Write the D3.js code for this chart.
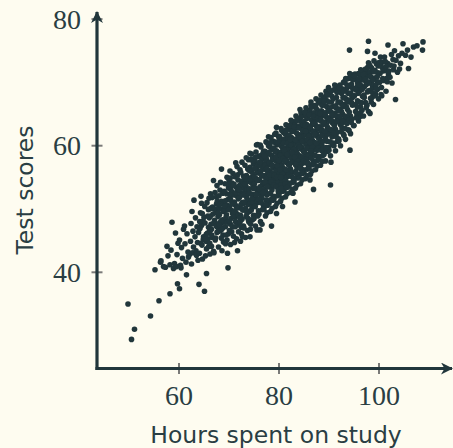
<!DOCTYPE html>
<html>
<head>
<meta charset="utf-8">
<script src="https://cdn.jsdelivr.net/npm/d3@7"></script>
<style>
  body { margin: 0; background: #fefcf0; }
  svg { display: block; }
  .tick-label { font-family: "Liberation Serif", serif; font-size: 28px; fill: #2a3e43; }
  .axis-title { font-family: "DejaVu Sans", sans-serif; font-size: 23.5px; fill: #2a3e43; }
</style>
</head>
<body>
<svg id="chart" width="453" height="448"></svg>
<script>
// hours spent on study vs test score
const samples = [
  [49.8,35.0],[51.1,31.0],[50.5,29.4],[54.3,33.1],[56.0,35.5],[58.2,36.6],[59.7,38.2],[60.1,37.4],[55.2,40.4],[56.3,41.6],
  [56.4,41.8],[56.9,40.9],
  [57.3,40.8],[57.8,42.6],[57.6,44.1],
  [58.2,41.2],[58.6,47.9],[58.9,40.6],[58.4,43.5],
  [59.3,46.2],[59.1,41.4],[59.6,42.8],[59.8,44.6],[59.5,40.9],
  [60.1,45.1],[60.3,41.1],[60.5,43.9],[60.7,42.2],[60.9,46.8],[60.4,40.7],
  [61.2,44.5],[61.4,41.6],[61.6,46.1],[61.8,43.2],[61.1,47.3],[61.9,42.4],[61.5,39.6],
  [62.6,49.6],[62.3,44.9],[62.1,42.8],[62.8,46.5],[62.5,41.3],[62.9,44.0],[62.4,47.7],[62.7,43.1],
  [63.0,51.4],[63.2,45.6],[63.4,43.4],[63.6,47.2],[63.8,41.9],[63.3,48.6],[63.7,44.7],[63.9,46.3],[63.5,42.7],
  [64.4,52.0],[64.5,50.9],[64.0,38.1],[64.2,46.9],[64.6,44.3],[64.8,48.1],[64.1,43.0],[64.9,45.6],[64.3,49.4],[64.7,42.1],[64.5,47.4],
  [65.1,37.0],[65.5,39.8],[65.2,47.8],[65.4,44.9],[65.7,46.2],[65.9,49.9],[65.3,42.6],[65.6,51.0],[65.8,45.3],[65.0,48.7],[65.5,43.7],[65.9,47.1],
  [66.9,54.5],[66.1,46.4],[66.3,48.9],[66.5,44.1],[66.7,50.3],[66.2,42.9],[66.4,47.6],[66.6,45.5],[66.8,49.2],[66.0,51.7],[66.5,46.8],[66.9,43.3],[66.3,52.4],
  [67.1,48.2],[67.3,45.4],[67.5,50.8],[67.7,47.1],[67.9,44.0],[67.2,52.6],[67.4,49.5],[67.6,46.3],[67.8,48.8],[67.0,43.1],[67.5,51.9],[67.9,50.1],[67.3,47.8],[67.6,53.7],
  [68.5,56.3],[68.1,49.1],[68.3,46.6],[68.5,51.2],[68.7,48.3],[68.9,44.8],[68.2,53.0],[68.4,47.7],[68.6,50.0],[68.8,45.9],[68.0,52.1],[68.6,43.4],[68.9,49.6],[68.3,54.2],[68.7,47.0],
  [69.8,40.7],[69.7,43.0],[69.1,49.8],[69.3,47.2],[69.5,52.4],[69.7,50.6],[69.9,46.1],[69.2,54.0],[69.4,48.7],[69.6,45.1],[69.8,51.5],[69.0,47.9],[69.5,49.1],[69.9,53.3],[69.3,44.5],[69.6,55.0],
  [70.2,56.0],[70.0,54.6],[70.1,50.4],[70.3,47.6],[70.5,52.8],[70.7,49.3],[70.9,45.7],[70.2,51.7],[70.4,48.5],[70.6,54.1],[70.8,50.9],[70.1,46.6],[70.5,49.8],[70.9,52.2],[70.3,44.4],[70.7,47.2],[70.4,53.5],[70.8,55.6],
  [71.7,43.4],[71.1,51.1],[71.3,48.0],[71.5,53.4],[71.7,50.2],[71.9,46.4],[71.2,55.1],[71.4,49.4],[71.6,52.0],[71.8,47.5],[71.0,53.9],[71.5,45.3],[71.9,51.6],[71.3,50.6],[71.6,56.7],[71.2,48.7],[71.8,54.6],[71.1,44.7],
  [72.1,51.8],[72.3,49.0],[72.5,54.0],[72.7,51.0],[72.9,47.3],[72.2,56.2],[72.4,52.5],[72.6,48.4],[72.8,53.3],[72.0,50.3],[72.5,46.1],[72.9,55.2],[72.3,44.9],[72.6,57.4],[72.8,49.8],[72.1,53.7],[72.4,50.7],[72.7,45.6],[72.2,47.9],
  [73.1,52.6],[73.3,50.1],[73.5,55.3],[73.7,51.4],[73.9,48.2],[73.2,56.9],[73.4,53.6],[73.6,49.3],[73.8,54.4],[73.0,47.0],[73.5,51.9],[73.9,57.8],[73.3,45.5],[73.6,53.0],[73.8,50.7],[73.1,55.0],[73.4,48.8],[73.7,46.6],[73.2,52.3],[73.9,54.9],
  [74.5,58.7],[74.2,58.8],[74.2,45.6],[74.1,53.2],[74.3,50.9],[74.5,55.9],[74.7,52.3],[74.9,49.0],[74.2,56.6],[74.4,54.2],[74.6,50.3],[74.8,53.8],[74.0,47.9],[74.5,51.5],[74.9,57.1],[74.3,46.8],[74.6,55.0],[74.8,51.0],[74.1,49.6],[74.4,57.9],[74.7,48.3],[74.9,54.6],
  [75.7,60.2],[75.5,60.1],[75.1,54.0],[75.3,51.6],[75.5,56.5],[75.7,53.1],[75.9,49.7],[75.2,57.6],[75.4,54.8],[75.6,51.0],[75.8,55.7],[75.0,48.5],[75.5,52.4],[75.9,58.3],[75.3,47.3],[75.6,56.0],[75.8,52.8],[75.1,50.4],[75.4,59.0],[75.7,49.1],[75.9,54.5],[75.2,53.3],[75.6,46.7],
  [76.2,46.7],[76.1,54.6],[76.3,52.2],[76.5,57.2],[76.7,53.8],[76.9,50.5],[76.2,58.4],[76.4,55.5],[76.6,51.7],[76.8,56.3],[76.0,49.2],[76.5,53.0],[76.9,59.1],[76.3,48.0],[76.6,57.9],[76.8,54.0],[76.1,51.1],[76.4,59.8],[76.7,49.9],[76.9,55.2],[76.2,53.5],[76.6,47.6],[76.4,56.8],[76.8,52.4],
  [77.9,61.4],[77.1,55.3],[77.3,52.8],[77.5,57.9],[77.7,54.5],[77.9,51.3],[77.2,59.1],[77.4,56.2],[77.6,52.2],[77.8,57.0],[77.0,50.0],[77.5,54.9],[77.9,60.0],[77.3,48.9],[77.6,58.6],[77.8,55.8],[77.1,53.1],[77.4,60.6],[77.7,50.6],[77.9,56.1],[77.2,54.0],[77.6,49.4],[77.4,57.4],[77.8,53.5],[77.0,56.6],
  [78.5,47.3],[78.1,56.0],[78.3,53.5],[78.5,58.5],[78.7,55.2],[78.9,52.0],[78.2,59.8],[78.4,57.0],[78.6,53.0],[78.8,57.8],[78.0,50.9],[78.5,55.7],[78.9,60.7],[78.3,49.6],[78.6,59.4],[78.8,56.5],[78.1,54.1],[78.4,61.3],[78.7,51.4],[78.9,54.8],[78.2,57.4],[78.6,50.1],[78.4,55.0],[78.8,53.7],[78.0,58.8],
  [79.5,62.9],[79.5,49.3],[79.1,56.7],[79.3,54.2],[79.5,59.2],[79.7,55.9],[79.9,52.7],[79.2,60.5],[79.4,57.6],[79.6,53.7],[79.8,58.5],[79.0,51.6],[79.5,56.3],[79.9,61.4],[79.3,50.4],[79.6,60.1],[79.8,57.1],[79.1,54.9],[79.4,62.0],[79.7,52.1],[79.9,55.6],[79.2,58.1],[79.6,50.9],[79.4,56.0],[79.8,54.4],[79.0,59.6],[79.7,57.9],
  [80.7,50.4],[80.1,57.4],[80.3,54.9],[80.5,59.9],[80.7,56.6],[80.9,53.4],[80.2,61.2],[80.4,58.3],[80.6,54.4],[80.8,59.2],[80.0,52.3],[80.5,57.0],[80.9,62.1],[80.3,51.2],[80.6,60.8],[80.8,57.8],[80.1,55.6],[80.4,62.7],[80.7,52.8],[80.9,56.3],[80.2,58.9],[80.6,51.7],[80.4,56.7],[80.8,55.1],[80.0,60.3],[80.7,58.6],[80.3,53.8],
  [81.5,62.5],[81.1,58.1],[81.3,55.6],[81.5,60.6],[81.7,57.3],[81.9,54.1],[81.2,61.9],[81.4,59.0],[81.6,55.1],[81.8,59.9],[81.0,53.0],[81.5,57.7],[81.9,62.8],[81.3,51.9],[81.6,61.5],[81.8,58.5],[81.1,56.3],[81.4,63.3],[81.7,53.5],[81.9,57.0],[81.2,59.6],[81.6,52.4],[81.4,57.4],[81.8,55.8],[81.0,61.0],[81.7,59.3],[81.3,54.5],
  [82.7,63.8],[82.8,52.5],[82.1,58.8],[82.3,56.3],[82.5,61.3],[82.7,58.0],[82.9,54.8],[82.2,62.6],[82.4,59.7],[82.6,55.8],[82.8,60.6],[82.0,53.7],[82.5,58.4],[82.9,63.5],[82.3,52.6],[82.6,62.2],[82.8,59.2],[82.1,57.0],[82.4,64.0],[82.7,54.2],[82.9,57.7],[82.2,60.3],[82.6,53.1],[82.4,58.1],[82.0,61.7],[82.7,60.0],[82.3,55.2],
  [83.2,51.1],[83.1,59.5],[83.3,57.0],[83.5,62.0],[83.7,58.7],[83.9,55.5],[83.2,63.3],[83.4,60.4],[83.6,56.5],[83.8,61.3],[83.0,54.4],[83.5,59.1],[83.9,64.2],[83.3,53.3],[83.6,62.9],[83.8,59.9],[83.1,57.7],[83.4,64.7],[83.7,54.9],[83.9,58.4],[83.2,61.0],[83.6,53.8],[83.4,58.8],[83.8,57.2],[83.0,62.4],[83.7,60.7],[83.3,55.9],
  [84.2,65.7],[84.1,60.2],[84.3,57.7],[84.5,62.7],[84.7,59.4],[84.9,56.2],[84.2,64.0],[84.4,61.1],[84.6,57.2],[84.8,62.0],[84.0,55.1],[84.5,59.8],[84.9,64.9],[84.3,54.0],[84.6,63.6],[84.8,60.6],[84.1,58.4],[84.4,65.2],[84.7,55.6],[84.9,59.1],[84.2,61.7],[84.6,54.6],[84.4,59.5],[84.8,57.9],[84.0,63.1],[84.7,61.4],[84.3,56.6],
  [85.1,60.9],[85.3,58.4],[85.5,63.4],[85.7,60.1],[85.9,56.9],[85.2,64.7],[85.4,61.8],[85.6,57.9],[85.8,62.7],[85.0,55.8],[85.5,60.5],[85.9,65.6],[85.3,54.8],[85.6,64.3],[85.8,61.3],[85.1,59.1],[85.4,66.0],[85.7,56.3],[85.9,59.8],[85.2,62.4],[85.6,55.3],[85.4,60.2],[85.8,58.6],[85.0,63.8],[85.7,62.1],[85.3,57.3],
  [86.4,66.4],[86.2,54.6],[86.9,53.1],[86.1,61.6],[86.3,59.1],[86.5,64.1],[86.7,60.8],[86.9,57.6],[86.2,65.4],[86.4,62.5],[86.6,58.6],[86.8,63.4],[86.0,56.5],[86.5,61.2],[86.9,66.3],[86.3,55.5],[86.6,65.0],[86.8,62.0],[86.1,59.8],[86.4,66.9],[86.7,57.0],[86.9,60.5],[86.2,63.1],[86.6,56.0],[86.4,60.9],[86.8,59.3],
  [87.1,62.3],[87.3,59.8],[87.5,64.8],[87.7,61.5],[87.9,58.3],[87.2,66.1],[87.4,63.2],[87.6,59.3],[87.8,64.1],[87.0,57.2],[87.5,61.9],[87.9,67.0],[87.3,56.2],[87.6,65.7],[87.8,62.7],[87.1,60.5],[87.4,67.4],[87.7,57.7],[87.9,61.2],[87.2,63.8],[87.6,56.8],[87.4,61.6],[87.8,60.0],[87.0,65.2],
  [88.1,63.0],[88.3,60.5],[88.5,65.5],[88.7,62.2],[88.9,59.0],[88.2,66.8],[88.4,63.9],[88.6,60.0],[88.8,64.8],[88.0,57.9],[88.5,62.6],[88.9,67.6],[88.3,56.9],[88.6,66.4],[88.8,63.4],[88.1,61.2],[88.4,68.0],[88.7,58.4],[88.9,61.9],[88.2,64.5],[88.6,57.5],[88.4,62.3],[88.8,60.7],
  [89.9,69.2],[89.7,68.0],[89.1,63.7],[89.3,61.2],[89.5,66.2],[89.7,62.9],[89.9,59.7],[89.2,67.5],[89.4,64.6],[89.6,60.7],[89.8,65.5],[89.0,58.6],[89.5,63.3],[89.9,68.2],[89.3,57.6],[89.6,67.1],[89.8,64.1],[89.1,61.9],[89.4,68.6],[89.7,59.1],[89.9,62.6],[89.2,65.2],
  [90.4,57.4],[90.3,53.8],[90.1,64.4],[90.3,61.9],[90.5,66.9],[90.7,63.6],[90.9,60.4],[90.2,68.2],[90.4,65.3],[90.6,61.4],[90.8,66.2],[90.0,59.3],[90.5,64.0],[90.9,68.8],[90.3,58.4],[90.6,67.8],[90.8,64.8],[90.1,62.6],[90.7,60.1],[90.2,66.0],
  [91.1,65.1],[91.3,62.6],[91.5,67.6],[91.7,64.3],[91.9,61.1],[91.2,68.9],[91.4,66.0],[91.6,62.1],[91.8,66.9],[91.0,60.0],[91.5,64.7],[91.9,69.4],[91.3,59.2],[91.6,68.4],[91.8,65.5],[91.1,63.3],[91.7,60.7],[91.4,63.8],
  [92.3,68.9],[92.1,65.8],[92.3,63.3],[92.5,68.3],[92.7,65.0],[92.9,61.8],[92.2,69.6],[92.4,66.7],[92.6,62.8],[92.8,67.6],[92.0,60.8],[92.5,65.4],[92.9,70.0],[92.3,60.0],[92.6,69.0],[92.8,66.2],[92.1,64.0],[92.7,63.6],
  [93.1,66.5],[93.3,64.0],[93.5,69.0],[93.7,65.7],[93.9,62.5],[93.2,70.2],[93.4,67.4],[93.6,63.5],[93.8,68.3],[93.0,61.6],[93.5,66.1],[93.9,70.6],[93.3,61.0],[93.6,69.6],[93.8,66.9],[93.1,64.7],
  [94.1,75.1],[94.2,59.3],[94.4,69.3],[94.1,67.2],[94.3,64.7],[94.5,69.7],[94.7,66.4],[94.9,63.2],[94.2,70.8],[94.4,68.1],[94.6,64.2],[94.8,69.0],[94.0,62.4],[94.5,66.8],[94.9,71.2],[94.3,61.9],[94.7,67.6],
  [95.1,67.9],[95.3,65.4],[95.5,70.4],[95.7,67.1],[95.9,63.9],[95.2,71.3],[95.4,68.8],[95.6,64.9],[95.8,69.7],[95.0,63.2],[95.5,69.2],[95.9,71.4],[95.3,66.5],[95.7,70.0],
  [96.2,64.6],[96.1,68.6],[96.3,66.1],[96.5,71.0],[96.7,67.8],[96.9,64.7],[96.2,70.3],[96.4,69.5],[96.6,65.6],[96.8,70.4],[96.0,66.9],[96.5,69.0],[96.9,71.8],[96.3,71.4],
  [97.9,76.5],[97.7,74.9],[97.9,73.1],[97.1,69.3],[97.3,66.8],[97.5,71.6],[97.7,68.5],[97.9,65.4],[97.2,70.9],[97.4,70.1],[97.6,66.4],[97.8,71.1],[97.0,68.0],[97.5,69.7],[97.3,72.1],
  [98.2,72.6],[98.2,65.1],[98.6,67.6],[98.1,70.0],[98.3,67.5],[98.5,72.3],[98.7,69.2],[98.9,66.5],[98.2,71.6],[98.4,70.8],[98.8,71.8],[98.0,68.7],[98.5,69.8],
  [99.2,74.6],[99.9,73.1],[99.7,68.9],[99.1,70.7],[99.3,68.2],[99.5,72.9],[99.7,70.1],[99.9,67.4],[99.2,71.9],[99.4,69.6],[99.8,71.5],[99.0,73.4],
  [100.3,74.0],[100.2,71.4],[100.5,69.2],[100.7,72.3],[100.9,70.3],[100.4,68.1],[100.6,73.2],[100.1,70.0],[100.8,71.8],
  [101.8,75.9],[101.2,72.0],[101.5,70.6],[101.7,73.0],[101.9,71.2],[101.4,68.6],[101.1,74.0],[101.6,71.8],
  [102.0,71.8],[102.5,74.4],[102.3,72.7],[102.6,69.9],[102.8,73.6],[102.2,70.8],[102.9,72.0],
  [103.1,75.0],[103.0,72.6],[103.3,67.3],[103.4,73.5],[103.7,71.6],[103.9,74.2],
  [104.8,76.1],[104.3,73.0],[104.6,74.6],[104.1,72.1],
  [105.9,72.2],[105.3,74.3],[105.7,75.1],
  [106.9,75.6],[106.4,74.0],
  [108.8,76.4],[108.7,75.1],[107.6,75.8]
];

// second pass over the dense band, filling the gaps in the core
const coreSamples = [
  [64.05,47.0],[64.35,44.6],[64.65,49.3],[64.85,45.2],[64.15,48.0],
  [65.25,45.3],[65.75,48.9],[65.45,46.0],[65.95,44.1],[65.15,50.4],
  [66.05,48.6],[66.55,45.9],[66.35,50.1],[66.85,47.7],[66.15,44.6],[66.65,51.8],
  [67.45,47.3],[67.05,50.0],[67.85,49.4],[67.25,45.1],[67.65,51.2],[67.95,46.5],
  [68.15,50.7],[68.45,45.4],[68.75,52.5],[68.35,48.0],[68.95,50.9],[68.55,46.8],[68.05,47.5],
  [69.25,51.3],[69.65,47.9],[69.05,52.8],[69.85,49.9],[69.45,45.9],[69.15,50.5],[69.75,53.9],
  [70.35,51.4],[70.05,48.1],[70.85,53.7],[70.55,46.4],[70.25,54.9],[70.65,50.8],[70.95,48.9],[70.15,52.3],
  [71.45,52.6],[71.05,49.6],[71.75,55.4],[71.25,47.2],[71.95,53.0],[71.55,50.2],[71.35,57.3],[71.85,49.1],
  [72.05,53.1],[72.55,50.0],[72.35,55.8],[72.85,52.2],[72.15,48.6],[72.65,54.4],[72.95,50.9],[72.45,47.1],
  [73.35,54.3],[73.05,51.1],[73.75,56.3],[73.55,49.7],[73.15,53.9],[73.95,52.4],[73.45,58.1],[73.85,48.5],
  [74.25,54.7],[74.65,51.7],[74.05,56.1],[74.85,55.5],[74.45,49.8],[74.15,52.5],[74.75,57.6],[74.35,47.6],[74.95,53.2],
  [75.05,55.1],[75.45,52.3],[75.85,57.0],[75.25,50.4],[75.65,54.6],[75.35,58.2],[75.95,51.5],[75.15,56.4],[75.75,48.9],
  [76.35,56.0],[76.05,53.2],[76.75,58.7],[76.45,51.0],[76.95,54.2],[76.15,57.4],[76.55,55.3],[76.85,52.6],[76.25,60.1],
  [77.25,56.9],[77.65,53.6],[77.05,58.4],[77.85,55.7],[77.45,51.4],[77.95,58.9],[77.15,54.3],[77.55,56.4],[77.35,50.7],[77.75,60.4],
  [78.05,57.3],[78.45,54.3],[78.85,59.6],[78.25,52.5],[78.65,56.9],[78.35,60.5],[78.95,53.8],[78.15,55.4],[78.75,58.0],[78.55,51.6],
  [79.35,58.2],[79.05,55.3],[79.75,60.6],[79.45,53.5],[79.95,57.7],[79.15,61.8],[79.55,55.0],[79.85,52.9],[79.25,59.0],[79.65,56.8],
  [80.25,58.5],[80.65,55.6],[80.05,61.5],[80.85,58.0],[80.45,53.3],[80.95,60.4],[80.15,56.2],[80.55,62.4],[80.35,55.0],[80.75,59.6],
  [81.05,59.3],[81.45,56.2],[81.85,61.1],[81.25,54.0],[81.65,58.6],[81.35,62.3],[81.95,55.4],[81.15,57.6],[81.75,60.4],[81.55,53.4],
  [82.35,60.1],[82.05,57.0],[82.75,62.3],[82.45,55.2],[82.95,59.4],[82.15,63.2],[82.55,57.4],[82.85,54.9],[82.25,61.0],[82.65,58.9],
  [83.25,60.9],[83.65,57.8],[83.05,63.0],[83.85,60.1],[83.45,55.6],[83.95,62.8],[83.15,58.2],[83.55,64.0],[83.35,57.1],[83.75,61.8],
  [84.05,61.4],[84.45,58.3],[84.85,63.3],[84.25,56.4],[84.65,60.7],[84.35,64.5],[84.95,57.6],[84.15,59.8],[84.75,62.4],[84.55,55.7],
  [85.35,62.3],[85.05,59.1],[85.75,64.5],[85.45,57.4],[85.95,61.5],[85.15,65.3],[85.55,59.6],[85.85,57.2],[85.25,63.2],[85.65,60.9],
  [86.25,62.8],[86.65,59.9],[86.05,64.9],[86.85,62.2],[86.45,58.0],[86.95,64.6],[86.15,60.5],[86.55,66.1],[86.35,59.2],[86.75,63.6],
  [87.05,63.5],[87.45,60.4],[87.85,65.2],[87.25,58.5],[87.65,62.9],[87.35,66.4],[87.95,59.6],[87.15,61.8],[87.75,64.4],
  [88.35,64.2],[88.05,61.2],[88.75,66.4],[88.45,59.3],[88.95,63.7],[88.15,67.2],[88.55,61.6],[88.85,59.6],[88.25,65.1],
  [89.25,64.9],[89.65,61.8],[89.05,67.0],[89.85,64.2],[89.45,59.7],[89.95,66.9],[89.15,62.3],[89.55,68.1],
  [90.05,65.5],[90.45,62.5],[90.85,67.4],[90.25,60.6],[90.65,64.9],[90.35,68.6],[90.95,62.0],[90.15,63.9],
  [91.35,66.3],[91.05,63.2],[91.75,68.6],[91.45,61.4],[91.95,65.6],[91.15,69.6],[91.55,63.8],
  [92.25,66.9],[92.65,64.0],[92.05,69.1],[92.85,66.4],[92.45,62.2],[92.95,68.6],[92.15,64.6],
  [93.05,67.6],[93.45,64.6],[93.85,69.5],[93.25,62.7],[93.65,67.0],[93.35,70.6],[93.95,64.1],
  [94.35,68.3],[94.05,65.3],[94.75,70.4],[94.45,63.7],[94.95,67.9],[94.15,71.4],
  [95.25,69.0],[95.65,66.1],[95.05,71.0],[95.85,68.3],[95.45,64.4],[95.95,70.6],
  [96.05,69.6],[96.45,66.8],[96.85,71.3],[96.25,65.2],[96.65,68.9],[96.35,72.0],
  [97.35,70.5],[97.05,67.6],[97.75,72.4],[97.45,66.0],[97.95,70.0],
  [98.25,71.0],[98.65,68.4],[98.05,72.8],[98.85,70.4],[98.45,66.9],
  [99.05,71.7],[99.45,69.0],[99.85,72.6],[99.25,67.9],[99.65,70.9],
  [100.35,72.6],[100.75,70.6],[100.15,73.1],[100.55,67.9],
  [101.25,73.3],[101.65,70.1],[101.45,72.5]
];

const xTicks = [60, 80, 100];
const yTicks = [40, 60, 80];
const xTitle = "Hours spent on study";
const yTitle = "Test scores";

const width = 453, height = 448;
const ink = "#21363b";
const originX = 97, originY = 368.5;

const svg = d3.select("#chart");
svg.append("rect").attr("width", width).attr("height", height).attr("fill", "#fefcf0");

const x = d3.scaleLinear().domain([60, 100]).range([179, 379]);
const y = d3.scaleLinear().domain([40, 80]).range([272.3, 19.1]);

// latex-ish stealth arrow head
const defs = svg.append("defs");
defs.append("marker")
    .attr("id", "arrow")
    .attr("viewBox", "0 0 12 12")
    .attr("refX", 11).attr("refY", 6)
    .attr("markerWidth", 12).attr("markerHeight", 12)
    .attr("markerUnits", "userSpaceOnUse")
    .attr("orient", "auto")
  .append("path")
    .attr("d", "M0,0 L12,6 L0,12 L3.5,6 Z")
    .attr("fill", ink);

// ticks (gray marks crossing the axes)
svg.selectAll(".xtick").data(xTicks).enter().append("line")
    .attr("x1", d => x(d)).attr("x2", d => x(d))
    .attr("y1", originY - 5.5).attr("y2", originY + 5.5)
    .attr("stroke", "#7a7a78").attr("stroke-width", 2);
svg.selectAll(".ytick").data(yTicks).enter().append("line")
    .attr("x1", originX - 5.5).attr("x2", originX + 5.5)
    .attr("y1", d => y(d)).attr("y2", d => y(d))
    .attr("stroke", "#7a7a78").attr("stroke-width", 2);

// axes
svg.append("line")
    .attr("x1", originX - 1.5).attr("y1", originY)
    .attr("x2", 452).attr("y2", originY)
    .attr("stroke", ink).attr("stroke-width", 3.2)
    .attr("marker-end", "url(#arrow)");
svg.append("line")
    .attr("x1", originX).attr("y1", originY + 1.5)
    .attr("x2", originX).attr("y2", 12)
    .attr("stroke", ink).attr("stroke-width", 3.2)
    .attr("marker-end", "url(#arrow)");

// tick labels
svg.selectAll(".xl").data(xTicks).enter().append("text")
    .attr("class", "tick-label")
    .attr("x", d => x(d)).attr("y", 405)
    .attr("text-anchor", "middle")
    .text(d => d);
svg.selectAll(".yl").data(yTicks).enter().append("text")
    .attr("class", "tick-label")
    .attr("x", 81).attr("y", d => y(d) + 9.5)
    .attr("text-anchor", "end")
    .text(d => d);

// titles
svg.append("text")
    .attr("class", "axis-title")
    .attr("x", 276).attr("y", 443)
    .attr("text-anchor", "middle")
    .text(xTitle);
svg.append("text")
    .attr("class", "axis-title")
    .attr("transform", "translate(33,190) rotate(-90)")
    .attr("text-anchor", "middle")
    .text(yTitle);

// points
svg.append("g").selectAll("circle").data(samples.concat(coreSamples)).enter().append("circle")
    .attr("cx", d => x(d[0]))
    .attr("cy", d => y(d[1]))
    .attr("r", 2.8)
    .attr("fill", ink);
</script>
</body>
</html>
